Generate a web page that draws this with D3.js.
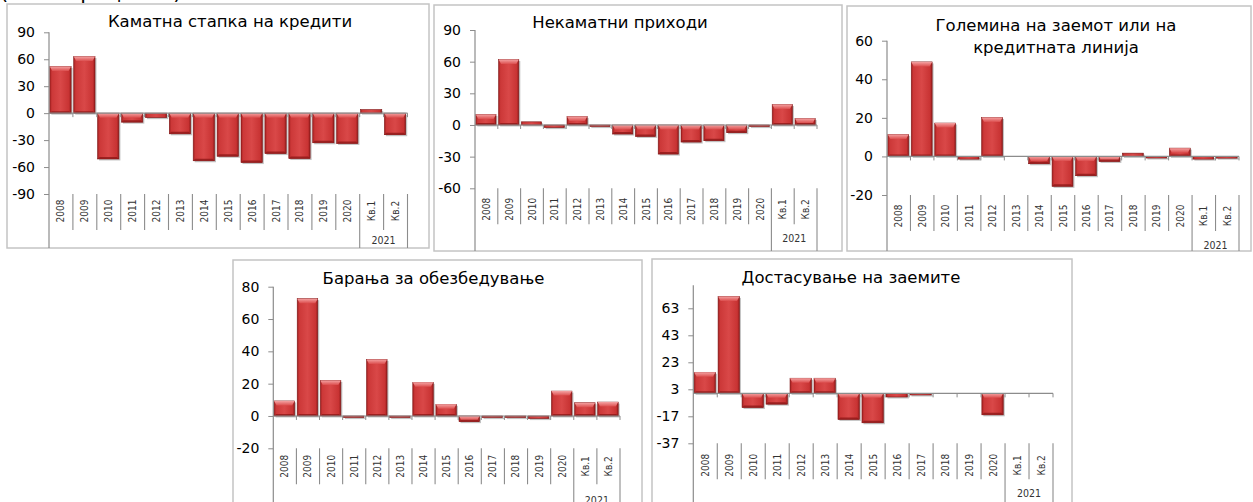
<!DOCTYPE html>
<html><head><meta charset="utf-8">
<script src="https://cdn.jsdelivr.net/npm/d3@7/dist/d3.min.js"></script>
<style>
html,body{margin:0;padding:0;background:#fff;}
svg{display:block;}
text{font-family:"DejaVu Sans",sans-serif;}
</style></head>
<body>
<svg id="chart" width="1253" height="502"></svg>
<script>
// ---- DATA ----
const categories = ["2008","2009","2010","2011","2012","2013","2014","2015","2016","2017","2018","2019","2020","Кв.1","Кв.2"];
const groupLabel = "2021";
const groupStart = 13; // index where the 2021 quarters begin
const titles = [
  ["Каматна стапка на кредити"],
  ["Некаматни приходи"],
  ["Големина на заемот или на","кредитната линија"],
  ["Барања за обезбедување"],
  ["Достасување на заемите"]
];
const interestRate = [52, 63, -51, -10, -5, -23, -53, -48, -55, -45, -50.5, -33, -33.7, 4, -24];
const nonInterest  = [10, 62, 3, -2.5, 8, -1.5, -8.6, -10.8, -27.6, -16.2, -14.9, -7.3, -0.5, 19.4, 6.1];
const loanSize     = [11.4, 49, 17.3, -1.4, 20.2, 0, -3.8, -15.5, -10, -2.6, 1.7, -0.3, 4.3, -1.4, -0.9];
const collateral   = [9.3, 72.6, 22, -0.2, 35, -0.2, 20.8, 7.2, -3.5, -1, -0.3, -1.6, 15.4, 8.2, 8.6];
const maturity     = [15.6, 71.8, -10.5, -8, 11.2, 11.2, -19.3, -21.8, -2.7, -1.2, 0, 0, -15.9, 0, 0];
const ticks1 = [-90,-60,-30,0,30,60,90];
const ticks2 = [-60,-30,0,30,60,90];
const ticks3 = [-20,0,20,40,60];
const ticks4 = [-20,0,20,40,60,80];
const ticks5 = [-37,-17,3,23,43,63];
const caption = "(нето проценти)";

// ---- LAYOUT ----
// yTop / yBot: pixel positions of the highest / lowest tick
const panels = [
  {values:interestRate, title:titles[0], ticks:ticks1, domain:[-90,90],
   box:[7,4,429,248], x0:49, x1:407.5, yTop:32.3, yBot:194, titleX:230, titleY:[26.5], lab1:17, lab2:46},
  {values:nonInterest, title:titles[1], ticks:ticks2, domain:[-60,90],
   box:[434,5,842,251], x0:475, x1:817, yTop:30, yBot:188.3, titleX:620, titleY:[28], lab1:21, lab2:50},
  {values:loanSize, title:titles[2], ticks:ticks3, domain:[-20,60],
   box:[847,6,1251,251], x0:887, x1:1239, yTop:40.7, yBot:195, titleX:1056, titleY:[30.5,53], lab1:21, lab2:50},
  {values:collateral, title:titles[3], ticks:ticks4, domain:[-20,80],
   box:[233,260,642,520], x0:273.3, x1:620, yTop:286.7, yBot:448.3, titleX:433.5, titleY:[284.3], lab1:18, lab2:52},
  {values:maturity, title:titles[4], ticks:ticks5, domain:[-37,80],
   box:[652,259,1072,520], x0:693.3, x1:1053, yTop:308.3, yBot:443.3, titleX:851, titleY:[283.3], lab1:22, lab2:50}
];

const svg = d3.select("#chart");
const defs = svg.append("defs");
const hg = defs.append("linearGradient").attr("id","barH").attr("x1",0).attr("x2",1).attr("y1",0).attr("y2",0);
[[0,"#a11f1f"],[0.1,"#cc3838"],[0.5,"#d94848"],[0.9,"#c83333"],[1,"#931b1b"]].forEach(s=>hg.append("stop").attr("offset",s[0]).attr("stop-color",s[1]));
const tg = defs.append("linearGradient").attr("id","barT").attr("x1",0).attr("x2",0).attr("y1",0).attr("y2",1);
[[0,"#f4a2a2"],[1,"#dc4e4e"]].forEach(s=>tg.append("stop").attr("offset",s[0]).attr("stop-color",s[1]));

const condensed = '"DejaVu Sans Condensed","DejaVu Sans",sans-serif';

svg.append("text").attr("x",0).attr("y",-1).attr("font-size",21).attr("fill","#000").text(caption);

panels.forEach(p=>{
  const g = svg.append("g");
  const [bx0,by0,bx1,by1] = p.box;
  g.append("rect").attr("x",bx0).attr("y",by0).attr("width",bx1-bx0).attr("height",by1-by0)
    .attr("fill","#fff").attr("stroke","#c4c4c4").attr("stroke-width",1.5);
  const panelBottom = Math.min(by1, 502);

  const x = d3.scaleBand().domain(categories).range([p.x0,p.x1]).padding(0);
  // y scale calibrated on the outermost tick positions
  const yT = d3.scaleLinear().domain([p.ticks[0], p.ticks[p.ticks.length-1]]).range([p.yBot, p.yTop]);
  const yS = d3.scaleLinear().domain(p.domain).range([yT(p.domain[0]), yT(p.domain[1])]);

  const y0 = yS(0);
  const bounds = categories.map(c=>x(c)).concat([p.x1]);
  const bw = x.bandwidth();

  // bars
  categories.forEach((c,i)=>{
    const v = p.values[i];
    if (v === 0) return;
    let top = Math.min(y0, yS(v)), h = Math.abs(yS(v)-y0);
    if (h < 1.6) { h = 1.6; if (v<0) top = y0; else top = y0-1.6; }
    const bx = x(c)+0.8, w = bw-2.6;
    g.append("rect").attr("x",bx+1.5).attr("y",top+1.5).attr("width",w).attr("height",h)
      .attr("fill","#777").attr("opacity",0.45);
    g.append("rect").attr("x",bx).attr("y",top).attr("width",w).attr("height",h)
      .attr("fill","url(#barH)").attr("stroke","#7e1717").attr("stroke-width",0.6);
    if (h > 5) {
      g.append("path").attr("d",`M${bx},${top}L${bx+w},${top}L${bx+w-2.5},${top+4.5}L${bx+2.5},${top+4.5}Z`)
        .attr("fill","url(#barT)");
      g.append("path").attr("d",`M${bx},${top+h}L${bx+w},${top+h}L${bx+w-2},${top+h-2}L${bx+2},${top+h-2}Z`)
        .attr("fill","#8f1818").attr("opacity",0.8);
    }
  });

  // titles
  p.title.forEach((t,i)=>{
    g.append("text").attr("x",p.titleX).attr("y",p.titleY[i]).attr("text-anchor","middle")
     .attr("font-size",16.5).attr("fill","#000").text(t);
  });

  // y axis
  const yAxis = d3.axisLeft(yS).tickValues(p.ticks).tickFormat(d=>String(d))
    .tickSize(5).tickPadding(9).tickSizeOuter(0);
  const ya = g.append("g").attr("transform",`translate(${p.x0},0)`).call(yAxis);
  ya.select(".domain").remove();
  ya.selectAll(".tick line").attr("stroke","#8c8c8c");
  ya.selectAll(".tick text").attr("font-size",14).attr("fill","#000")
    .style("font-family",'"DejaVu Sans",sans-serif');
  g.append("line").attr("x1",p.x0).attr("x2",p.x0).attr("y1",yS(p.domain[1])).attr("y2",panelBottom)
    .attr("stroke","#8c8c8c").attr("stroke-width",1.2);

  bounds.slice(1).forEach(bx=>{
    g.append("line").attr("x1",bx).attr("x2",bx).attr("y1",y0).attr("y2",y0+4).attr("stroke","#8c8c8c");
  });

  // zero axis line
  g.append("line").attr("x1",p.x0).attr("x2",p.x1).attr("y1",y0).attr("y2",y0)
    .attr("stroke","#8c8c8c").attr("stroke-width",1.2);

  // category labels (level 1)
  const plotBot = yS(p.domain[0]);
  categories.forEach((c,i)=>{
    const cx = x(c)+bw/2;
    const cy = plotBot + p.lab1;
    g.append("text").attr("transform",`translate(${cx+3.5},${cy}) rotate(-90)`)
      .attr("text-anchor","middle").attr("font-size",10).attr("fill","#333")
      .style("font-family",condensed).text(c);
  });
  // separators
  bounds.forEach((bx,i)=>{
    if (i===0) return;
    const full = (i===groupStart || i===categories.length);
    g.append("line").attr("x1",bx).attr("x2",bx).attr("y1",plotBot)
      .attr("y2", full ? panelBottom : plotBot+36).attr("stroke","#8c8c8c").attr("stroke-width",1.1);
  });
  // group label
  const gx = (x(categories[groupStart]) + p.x1)/2;
  g.append("text").attr("x",gx).attr("y",plotBot+p.lab2+4).attr("text-anchor","middle")
    .attr("font-size",10.5).attr("fill","#333").style("font-family",condensed).text(groupLabel);
});
</script>
</body></html>
